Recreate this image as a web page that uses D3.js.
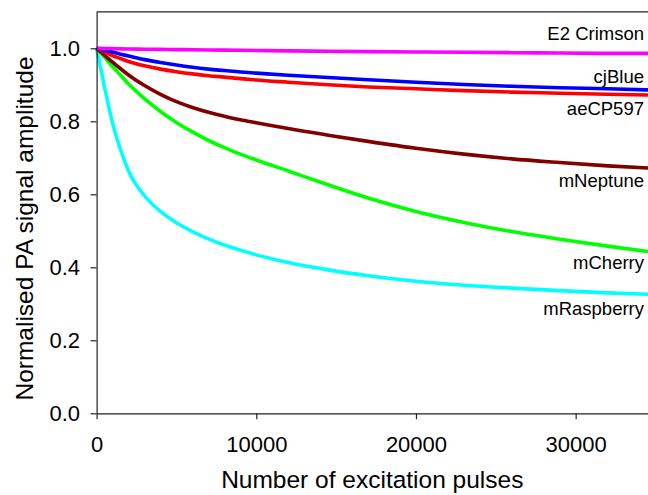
<!DOCTYPE html>
<html>
<head>
<meta charset="utf-8">
<script src="https://cdn.jsdelivr.net/npm/d3@7"></script>
<style>
  body { margin: 0; background: #fff; }
  svg text { font-family: "Liberation Sans", Arial, sans-serif; fill: #000; }
</style>
</head>
<body>
<div id="chart"></div>
<script>
// Number of excitation pulses (x samples shared by all series)
const pulses = [0, 500, 1000, 1500, 2000, 3000, 4000, 5000, 6000, 7000, 8000, 9000, 10000,
                12000, 14500, 17000, 20000, 23000, 26000, 29000, 32000, 34530];

// Normalised PA amplitude
const mRaspberry = [1.0, 0.893, 0.795, 0.722, 0.664, 0.596, 0.553, 0.522, 0.498, 0.478, 0.461, 0.447, 0.434,
                    0.413, 0.393, 0.377, 0.362, 0.351, 0.343, 0.336, 0.330, 0.326];
const mCherry = [1.0, 0.975, 0.950, 0.926, 0.902, 0.862, 0.827, 0.797, 0.771, 0.748, 0.728, 0.710, 0.694,
                 0.664, 0.626, 0.590, 0.553, 0.523, 0.498, 0.477, 0.458, 0.443];
const mNeptune = [1.0, 0.981, 0.962, 0.944, 0.927, 0.898, 0.874, 0.854, 0.838, 0.825, 0.814, 0.804, 0.796,
                  0.780, 0.762, 0.745, 0.726, 0.710, 0.697, 0.687, 0.678, 0.672];
const aeCP597 = [1.0, 0.990, 0.980, 0.972, 0.964, 0.952, 0.943, 0.936, 0.930, 0.925, 0.921, 0.917, 0.913,
                 0.907, 0.900, 0.894, 0.889, 0.884, 0.880, 0.877, 0.874, 0.872];
const cjBlue = [1.0, 0.995, 0.990, 0.984, 0.979, 0.969, 0.961, 0.954, 0.948, 0.943, 0.939, 0.935, 0.932,
                0.926, 0.920, 0.914, 0.907, 0.901, 0.896, 0.892, 0.889, 0.886];
const e2Crimson = [1.0, 0.9995, 0.999, 0.9985, 0.998, 0.9975, 0.997, 0.9965, 0.996, 0.9955, 0.995, 0.9945, 0.994,
                   0.993, 0.992, 0.991, 0.990, 0.989, 0.988, 0.987, 0.986, 0.986];

const seriesNames = ["mRaspberry", "mCherry", "mNeptune", "aeCP597", "cjBlue", "E2 Crimson"];
const seriesValues = [mRaspberry, mCherry, mNeptune, aeCP597, cjBlue, e2Crimson];
const seriesColors = ["#00ffff", "#00ff00", "#800000", "#ff0000", "#0000ff", "#ff00ff"];
// label baseline offset (px) from the end of each curve
const labelOffsets = [21, 17, 19, 20, -7, -13];

const xTicks = [0, 10000, 20000, 30000];
const yTicks = [0, 0.2, 0.4, 0.6, 0.8, 1.0];

const width = 648, height = 495;
const plotLeft = 96.6, plotRight = 648, plotTop = 11.8, plotBottom = 413.3;

const svg = d3.select("#chart").append("svg")
    .attr("width", width)
    .attr("height", height);

const x = d3.scaleLinear().domain([0, 34530]).range([plotLeft, plotRight]);
const y = d3.scaleLinear().domain([0, 1.1]).range([plotBottom, plotTop]);

// curves
const line = d3.line()
    .x(d => x(d[0]))
    .y(d => y(d[1]))
    .curve(d3.curveMonotoneX);

seriesValues.forEach((vals, i) => {
    const pts = pulses.map((p, j) => [p, vals[j]]);
    svg.append("path")
        .datum(pts)
        .attr("fill", "none")
        .attr("stroke", seriesColors[i])
        .attr("stroke-width", 3.6)
        .attr("d", line);

    svg.append("text")
        .attr("x", 644)
        .attr("y", y(vals[vals.length - 1]) + labelOffsets[i])
        .attr("text-anchor", "end")
        .style("font-size", "18.5px")
        .text(seriesNames[i]);
});

// top frame line
svg.append("line")
    .attr("x1", plotLeft).attr("x2", plotRight)
    .attr("y1", plotTop).attr("y2", plotTop)
    .attr("stroke", "#222")
    .attr("stroke-width", 1.2);

// Y axis
const yAxis = svg.append("g")
    .attr("transform", `translate(${plotLeft},0)`)
    .call(d3.axisLeft(y).tickValues(yTicks).tickFormat(d3.format(".1f"))
        .tickSize(6).tickSizeOuter(0).tickPadding(10.5));

// X axis
const xAxis = svg.append("g")
    .attr("transform", `translate(0,${plotBottom})`)
    .call(d3.axisBottom(x).tickValues(xTicks).tickFormat(d3.format("d"))
        .tickSize(6).tickSizeOuter(0).tickPadding(16.7));

[yAxis, xAxis].forEach(g => {
    g.select(".domain").attr("stroke", "#222").attr("stroke-width", 1.2);
    g.selectAll(".tick line").attr("stroke", "#222").attr("stroke-width", 1.2);
    g.selectAll(".tick text")
        .style("font-family", "'Liberation Sans', Arial, sans-serif")
        .style("font-size", "22px")
        .attr("fill", "#000");
});

// axis titles
svg.append("text")
    .attr("x", (plotLeft + plotRight) / 2)
    .attr("y", 488.3)
    .attr("text-anchor", "middle")
    .style("font-size", "24.5px")
    .text("Number of excitation pulses");

svg.append("text")
    .attr("transform", "translate(33,228.5) rotate(-90)")
    .attr("text-anchor", "middle")
    .style("font-size", "24.5px")
    .text("Normalised PA signal amplitude");
</script>
</body>
</html>
